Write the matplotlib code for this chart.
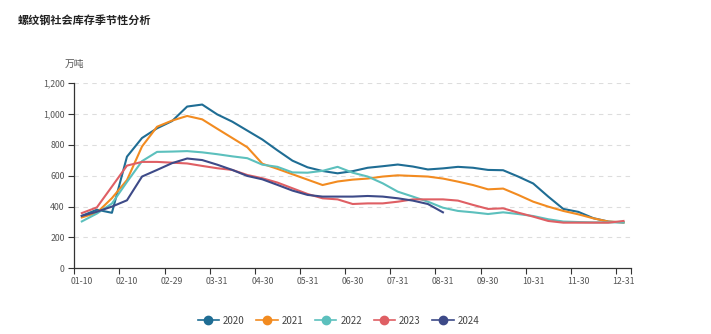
import matplotlib
matplotlib.use("Agg")
import matplotlib.pyplot as plt
import numpy as np

plt.rcParams['font.family'] = ['Noto Sans CJK SC', 'DejaVu Sans']

# 日期类目（约每旬一个点）
dates = ["01-10", "01-20", "01-31", "02-10", "02-20", "02-28", "02-29", "03-10", "03-20",
         "03-31", "04-10", "04-20", "04-30", "05-10", "05-20", "05-31", "06-10", "06-20",
         "06-30", "07-10", "07-20", "07-31", "08-10", "08-20", "08-31", "09-10", "09-20",
         "09-30", "10-10", "10-20", "10-31", "11-10", "11-20", "11-30", "12-10", "12-20",
         "12-31"]

# 社会库存，万吨
y2020 = [340, 380, 360, 724, 845, 908, 955, 1049, 1062, 998, 951, 893, 835, 765, 698, 655,
         631, 616, 630, 652, 662, 673, 660, 641, 648, 658, 652, 638, 636, 595, 550, 465,
         385, 366, 325, 303, 297]
y2021 = [330, 360, 455, 572, 790, 918, 958, 988, 966, 905, 845, 785, 678, 645, 610, 575,
         540, 563, 575, 582, 595, 603, 599, 595, 582, 562, 540, 512, 517, 476, 432, 400,
         372, 350, 324, 303, 298]
y2022 = [304, 355, 420, 560, 695, 755, 757, 760, 752, 740, 726, 714, 672, 658, 622, 620,
         632, 658, 620, 595, 551, 497, 465, 432, 393, 372, 363, 352, 363, 352, 339, 318,
         303, 300, 298, 298, 298]
y2023 = [358, 395, 530, 666, 690, 690, 685, 680, 664, 649, 638, 605, 584, 556, 519, 482,
         454, 447, 417, 421, 421, 432, 447, 447, 447, 439, 411, 385, 389, 361, 335, 307,
         296, 296, 296, 296, 307]
y2024 = [340, 367, 400, 441, 595, 638, 682, 712, 702, 672, 638, 599, 577, 541, 504, 476,
         465, 465, 465, 469, 465, 454, 439, 417, 363]

series = [("2020", y2020, "#1f6d94"), ("2021", y2021, "#f28b20"),
          ("2022", y2022, "#5cc0bd"), ("2023", y2023, "#df5f64"),
          ("2024", y2024, "#3d4a88")]

fig = plt.figure(figsize=(7.11, 3.34), dpi=100)
ax = fig.add_axes([0.1045, 0.1967, 0.783, 0.554])

for name, vals, col in series:
    ax.plot(np.arange(len(vals)), vals, color=col, lw=1.5, label=name,
            marker='o', markersize=0, solid_joinstyle='round')

ax.set_xlim(-0.5, len(dates) - 0.5)
ax.set_ylim(0, 1200)

lab_idx = list(range(0, len(dates), 3))
ax.set_xticks(lab_idx)
ax.set_xticklabels([dates[i] for i in lab_idx])
ax.set_xticks([i - 0.5 for i in lab_idx] + [len(dates) - 0.5], minor=True)
ax.tick_params(axis='x', which='major', length=0, pad=6, labelsize=6.3, labelcolor='#555555')
ax.tick_params(axis='x', which='minor', length=4, color='#333333', width=0.8)

yt = list(range(0, 1201, 200))
ax.set_yticks(yt)
ax.set_yticklabels([f"{v:,}" for v in yt])
ax.tick_params(axis='y', length=4, color='#333333', width=0.8, labelsize=6.3,
               labelcolor='#555555', pad=3)

for v in yt[1:]:
    ax.axhline(v, color='#dddddd', lw=0.8, ls=(0, (4, 4)), zorder=0)

for s in ['top', 'right']:
    ax.spines[s].set_visible(False)
for s in ['left', 'bottom']:
    ax.spines[s].set_color('#333333')
    ax.spines[s].set_linewidth(0.9)

fig.text(18 / 711, 1 - 20 / 334, "螺纹钢社会库存季节性分析", fontsize=8, fontweight='bold',
         color='#222222', va='center', ha='left')
fig.text(65 / 711, 1 - 64 / 334, "万吨", fontsize=7, color='#555555', va='center', ha='left')

handles = [plt.Line2D([], [], color=c, lw=1.2, marker='o', markersize=6,
                      markerfacecolor=c, markeredgecolor=c) for _, _, c in series]
fig.legend(handles, [n for n, _, _ in series], loc='center', bbox_to_anchor=(0.476, 0.04),
           ncol=5, frameon=False, fontsize=7, handlelength=2.2, handletextpad=0.4,
           columnspacing=1.2, labelcolor='#444444')

fig.savefig("out.png", dpi=100)
